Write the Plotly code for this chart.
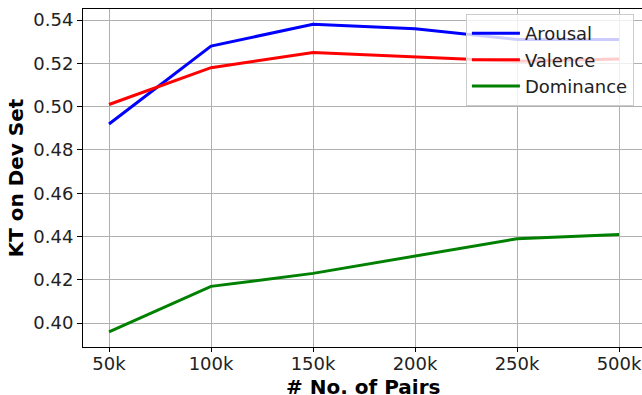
import plotly.graph_objects as go

categories = ["50k", "100k", "150k", "200k", "250k", "500k"]
arousal = [0.492, 0.528, 0.538, 0.536, 0.531, 0.531]
valence = [0.501, 0.518, 0.525, 0.523, 0.521, 0.522]
dominance = [0.396, 0.417, 0.423, 0.431, 0.439, 0.441]
y_ticks = [0.40, 0.42, 0.44, 0.46, 0.48, 0.50, 0.52, 0.54]
x_title = "# No. of Pairs"
y_title = "KT on Dev Set"

fig = go.Figure()
for name, vals, col in [("Arousal", arousal, "blue"), ("Valence", valence, "red"), ("Dominance", dominance, "green")]:
    fig.add_trace(go.Scatter(x=categories, y=vals, mode="lines", name=name,
                             line=dict(color=col, width=3)))

font = "DejaVu Sans, sans-serif"
fig.update_layout(
    width=642, height=395,
    margin=dict(l=83, r=0, t=9, b=48, autoexpand=False),
    plot_bgcolor="white", paper_bgcolor="white",
    font=dict(family=font, size=18, color="#222222"),
    legend=dict(x=0.685, y=0.985, xanchor="left", yanchor="top",
                bgcolor="rgba(255,255,255,0.8)", bordercolor="#cccccc", borderwidth=1,
                font=dict(size=18), tracegroupgap=0, itemwidth=48),
    showlegend=True,
    xaxis=dict(
        type="category", range=[-0.255, 5.225], automargin=False,
        showgrid=True, gridcolor="#b0b0b0", gridwidth=1,
        showline=True, linecolor="black", linewidth=1, mirror=True,
        ticks="",
    ),
    xaxis2=dict(overlaying="x", matches="x", anchor="y", side="bottom", automargin=False,
                type="category", showticklabels=False, showgrid=False,
                ticks="outside", ticklen=4, tickcolor="black"),
    annotations=[dict(text=f"<b>{x_title}</b>", xref="paper", yref="paper",
                      x=0.5, y=-0.118, xanchor="center", yanchor="middle",
                      showarrow=False, font=dict(size=20, color="black"))],
)
fig.add_trace(go.Scatter(x=categories, y=dominance, xaxis="x2", mode="lines",
                         line=dict(width=0), showlegend=False, hoverinfo="skip"))
fig.update_yaxes(
    range=[0.389, 0.5451], tickvals=y_ticks, ticktext=[f"{v:.2f}" for v in y_ticks],
    showgrid=True, gridcolor="#b0b0b0", gridwidth=1, automargin=False,
    showline=True, linecolor="black", linewidth=1, mirror=True,
    ticks="outside", ticklen=5, tickcolor="black",
    title=dict(text=f"<b>{y_title}</b>", font=dict(size=20, color="black"), standoff=4),
)
fig.write_html("out.html")
